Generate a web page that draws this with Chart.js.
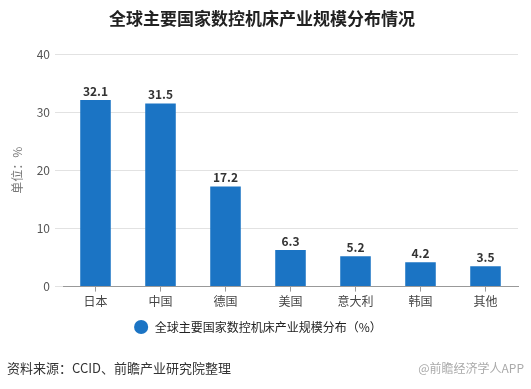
<!DOCTYPE html>
<html>
<head>
<meta charset="utf-8">
<title>全球主要国家数控机床产业规模分布情况</title>
<script src="https://cdn.jsdelivr.net/npm/chart.js"></script>
<style>
body{margin:0;background:#fff;}
#wrap{width:531px;height:389px;}
</style>
</head>
<body>
<div id="wrap"><canvas id="chart" width="531" height="389"></canvas></div>
<script>

// ================= DATA =================
const countries = ['日本','中国','德国','美国','意大利','韩国','其他'];
const shares = [32.1, 31.5, 17.2, 6.3, 5.2, 4.2, 3.5];
const yTicks = [0, 10, 20, 30, 40];
const seriesName = '全球主要国家数控机床产业规模分布（%）';
const chartTitle = '全球主要国家数控机床产业规模分布情况';
const sourceNote = '资料来源：CCID、前瞻产业研究院整理';
const brandNote = '@前瞻经济学人APP';

const FONT = '"Noto Sans CJK SC","Noto Sans",sans-serif';
const BLUE = '#1b74c4';

// ================= PLUGINS =================
// value labels above each bar
const valueLabels = {
  id:'valueLabels',
  afterDatasetsDraw(chart){
    const ctx = chart.ctx;
    const meta = chart.getDatasetMeta(0);
    ctx.save();
    ctx.font = 'bold 12px ' + FONT;
    ctx.fillStyle = '#333';
    ctx.textAlign = 'center';
    ctx.textBaseline = 'bottom';
    meta.data.forEach((bar,i)=>{
      ctx.fillText(shares[i].toFixed(1), bar.x, bar.y - 3);
    });
    ctx.restore();
  }
};

// title + footer texts
const texts = {
  id:'texts',
  beforeDraw(chart){
    const ctx = chart.ctx;
    ctx.save();
    ctx.fillStyle = '#fff';
    ctx.fillRect(0,0,chart.width,chart.height);
    ctx.restore();
  },
  afterDraw(chart){
    const ctx = chart.ctx;
    ctx.save();
    ctx.textBaseline = 'middle';
    ctx.fillStyle = '#222';
    ctx.font = 'bold 17px ' + FONT;
    ctx.textAlign = 'center';
    ctx.fillText(chartTitle, 262, 19);

    ctx.font = '13px ' + FONT;
    ctx.textAlign = 'left';
    ctx.fillStyle = '#333';
    ctx.fillText(sourceNote, 7, 368);

    ctx.font = '12px ' + FONT;
    ctx.textAlign = 'right';
    ctx.fillStyle = '#aaa';
    ctx.fillText(brandNote, 524, 368);
    ctx.restore();
  }
};

// ================= CHART =================
new Chart(document.getElementById('chart'),{
  type:'bar',
  data:{
    labels:countries,
    datasets:[{
      label:seriesName,
      data:shares,
      backgroundColor:BLUE,
      borderWidth:0,
      barPercentage:0.47,
      categoryPercentage:1
    }]
  },
  options:{
    responsive:false,
    animation:false,
    layout:{padding:{top:54,right:13,bottom:46,left:0}},
    plugins:{
      title:{display:false},
      tooltip:{enabled:false},
      legend:{
        position:'bottom',
        labels:{
          usePointStyle:true,
          pointStyle:'circle',
          boxWidth:10,
          boxHeight:10,
          padding:9,
          color:'#222',
          font:{family:FONT,size:12},
          generateLabels(chart){
            const items = Chart.defaults.plugins.legend.labels.generateLabels(chart);
            items.forEach(it=>{ it.text = ' ' + it.text; });
            return items;
          }
        }
      }
    },
    scales:{
      x:{
        grid:{display:true,drawOnChartArea:false,offset:false,tickLength:5,color:'#999'},
        border:{display:true,color:'#999'},
        ticks:{color:'#444',padding:3,font:{family:FONT,size:12}}
      },
      y:{
        min:0,max:40,
        afterBuildTicks(scale){ scale.ticks = yTicks.map(v=>({value:v})); },
        afterFit(scale){ scale.width = 63; },
        grid:{color:'#e2e2e2',tickLength:8},
        border:{display:false},
        ticks:{color:'#555',padding:5,font:{family:FONT,size:12}},
        title:{display:true,text:'单位：%',color:'#777',padding:{top:10,bottom:0},font:{family:FONT,size:12}}
      }
    }
  },
  plugins:[texts,valueLabels]
});

</script>
</body>
</html>
